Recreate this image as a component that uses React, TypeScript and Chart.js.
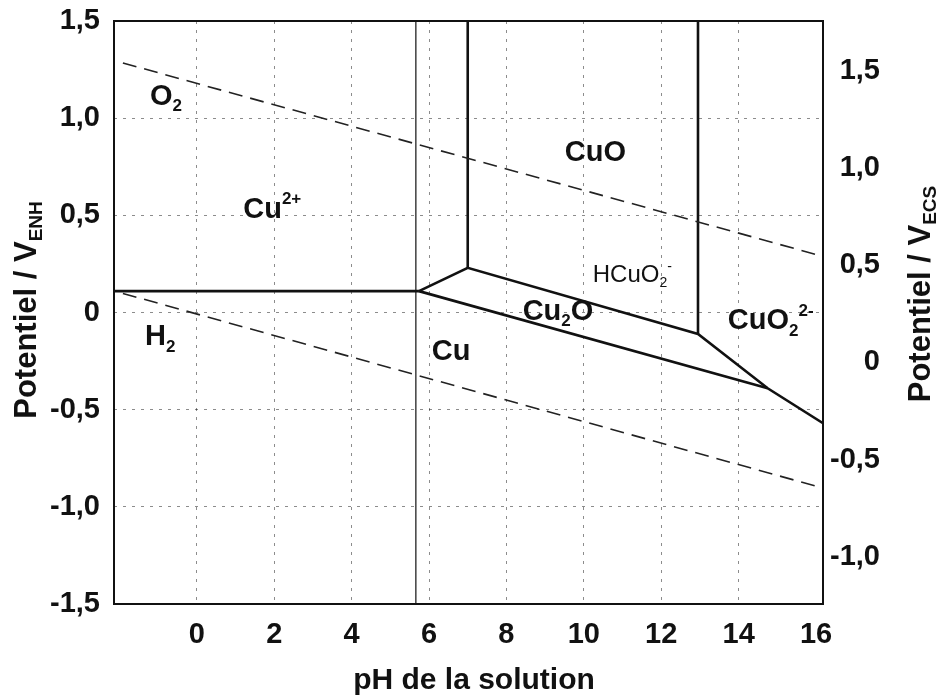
import React, { useEffect, useRef } from "react";
import { Chart, registerables } from "chart.js";

Chart.register(...registerables);

// ---- axes ----
const PH_MIN = -2.14;
const PH_MAX = 16.18;
const PH_TICKS = [0, 2, 4, 6, 8, 10, 12, 14, 16];
const ENH_MIN = -1.5;
const ENH_MAX = 1.5;
const ENH_TICKS = [-1.5, -1.0, -0.5, 0, 0.5, 1.0, 1.5];
const ECS_SHIFT = 0.257; // right-hand scale reading = left reading + shift (as printed)
const ECS_TICKS = [-1.0, -0.5, 0, 0.5, 1.0, 1.5];

// ---- water stability lines (dashed) ----
const o2PH = [-1.91, 16.1];
const o2E = [1.284, 0.293];
const h2PH = [-1.91, 16.1];
const h2E = [0.098, -0.899];

// ---- copper boundaries (solid) ----
const cu2CuPH = [-2.14, 5.74];
const cu2CuE = [0.11, 0.11];
const thinVertPH = [5.66, 5.66];
const thinVertE = [1.5, -1.5];
const upperBoundPH = [5.74, 7.0, 12.95, 14.75, 16.18];
const upperBoundE = [0.11, 0.23, -0.11, -0.39, -0.57];
const cuoLeftPH = [7.0, 7.0];
const cuoLeftE = [1.5, 0.23];
const cuoRightPH = [12.95, 12.95];
const cuoRightE = [1.5, -0.11];
const cuCu2oPH = [5.74, 14.75];
const cuCu2oE = [0.11, -0.39];

// ---- region labels: [text, kind] parts, anchor pH (left edge), E (middle) ----
type Part = [string, "n" | "sub" | "sup"];
const labelParts: Part[][] = [
  [["O", "n"], ["2", "sub"]],
  [["Cu", "n"], ["2+", "sup"]],
  [["CuO", "n"]],
  [["HCuO", "n"], ["2", "sub"], ["-", "sup"]],
  [["Cu", "n"], ["2", "sub"], ["O", "n"]],
  [["CuO", "n"], ["2", "sub"], ["2-", "sup"]],
  [["H", "n"], ["2", "sub"]],
  [["Cu", "n"]],
];
const labelPH = [-1.21, 1.2, 9.51, 10.23, 8.42, 13.72, -1.34, 6.07];
const labelE = [1.11, 0.53, 0.822, 0.19, 0.005, -0.046, -0.128, -0.205];
const labelBold = [true, true, true, false, true, true, true, true];

const FONT = "'Liberation Sans', Arial, Helvetica, sans-serif";

function pts(xs: number[], ys: number[]) {
  return xs.map((x, i) => ({ x, y: ys[i] }));
}

function fmt(v: number) {
  if (Math.abs(v) < 1e-9) return "0";
  return v.toFixed(1).replace(".", ",");
}

function drawRich(
  ctx: CanvasRenderingContext2D,
  parts: Part[],
  x: number,
  y: number,
  size: number,
  weight: string,
  align: "left" | "center"
) {
  const small = Math.round(size * 0.6);
  const fontFor = (k: string) => `${weight} ${k === "n" ? size : small}px ${FONT}`;
  const widths = parts.map(([t, k]) => {
    ctx.font = fontFor(k);
    return ctx.measureText(t).width;
  });
  const total = widths.reduce((a, b) => a + b, 0);
  let cx = align === "center" ? x - total / 2 : x;
  ctx.textAlign = "left";
  ctx.textBaseline = "middle";
  parts.forEach(([t, k], i) => {
    ctx.font = fontFor(k);
    const dy = k === "sub" ? size * 0.33 : k === "sup" ? -size * 0.36 : 0;
    ctx.fillText(t, cx, y + dy);
    cx += widths[i];
  });
}

const annotationsPlugin = {
  id: "pourbaixText",
  afterDatasetsDraw(chart: any) {
    const { ctx, chartArea, scales } = chart;
    ctx.save();
    ctx.fillStyle = "#111";
    labelParts.forEach((parts, i) => {
      const px = scales.x.getPixelForValue(labelPH[i]);
      const py = scales.y.getPixelForValue(labelE[i]);
      const bold = labelBold[i];
      drawRich(ctx, parts, px, py, bold ? 29 : 24, bold ? "bold" : "normal", "left");
    });
    // frame
    ctx.strokeStyle = "#111";
    ctx.lineWidth = 2;
    ctx.strokeRect(chartArea.left, chartArea.top, chartArea.right - chartArea.left, chartArea.bottom - chartArea.top);
    ctx.restore();
  },
  afterDraw(chart: any) {
    const { ctx } = chart;
    ctx.save();
    ctx.fillStyle = "#111";
    drawRich(ctx, [["pH de la solution", "n"]], 474, 681, 30, "bold", "center");
    ctx.save();
    ctx.translate(27, 310);
    ctx.rotate(-Math.PI / 2);
    drawRich(ctx, [["Potentiel / V", "n"], ["ENH", "sub"]], 0, 0, 31, "bold", "center");
    ctx.restore();
    ctx.save();
    ctx.translate(921, 294);
    ctx.rotate(-Math.PI / 2);
    drawRich(ctx, [["Potentiel / V", "n"], ["ECS", "sub"]], 0, 0, 31, "bold", "center");
    ctx.restore();
    ctx.restore();
  },
};

function zeroPad(axis: any) {
  axis.paddingTop = 0;
  axis.paddingBottom = 0;
  axis.paddingLeft = 0;
  axis.paddingRight = 0;
}

export default function App() {
  const ref = useRef<HTMLCanvasElement | null>(null);

  useEffect(() => {
    if (!ref.current) return;
    const solid = (data: any[], w: number) => ({
      data,
      showLine: true,
      borderColor: "#111",
      borderWidth: w,
      pointRadius: 0,
      fill: false,
      tension: 0,
    });
    const dashed = (data: any[]) => ({
      data,
      showLine: true,
      borderColor: "#222",
      borderWidth: 1.6,
      borderDash: [14, 8],
      pointRadius: 0,
      fill: false,
      tension: 0,
    });
    const tickFont = { family: FONT, size: 29, weight: "bold" as const };
    const gridColor = "rgba(0,0,0,0.45)";

    const chart = new Chart(ref.current, {
      type: "scatter",
      data: {
        datasets: [
          dashed(pts(o2PH, o2E)),
          dashed(pts(h2PH, h2E)),
          solid(pts(thinVertPH, thinVertE), 1.2),
          solid(pts(cu2CuPH, cu2CuE), 2.6),
          solid(pts(upperBoundPH, upperBoundE), 2.6),
          solid(pts(cuoLeftPH, cuoLeftE), 2.6),
          solid(pts(cuoRightPH, cuoRightE), 2.6),
          solid(pts(cuCu2oPH, cuCu2oE), 2.6),
        ] as any,
      },
      options: {
        animation: false,
        responsive: false,
        devicePixelRatio: 1,
        layout: { padding: { top: 21, right: 57, left: 0, bottom: 0 } },
        plugins: { legend: { display: false }, tooltip: { enabled: false }, title: { display: false } },
        scales: {
          x: {
            type: "linear",
            position: "bottom",
            min: PH_MIN,
            max: PH_MAX,
            afterBuildTicks: (axis: any) => {
              axis.ticks = PH_TICKS.map((v) => ({ value: v }));
            },
            afterFit: (axis: any) => {
              axis.height = 92;
              zeroPad(axis);
            },
            ticks: {
              font: tickFont,
              color: "#111",
              padding: 14,
              maxRotation: 0,
              autoSkip: false,
              callback: (v: any) => String(v),
            },
            grid: {
              drawTicks: false,
              lineWidth: 1,
              color: (c: any) => (c.tick && c.tick.value === 16 ? "rgba(0,0,0,0)" : gridColor),
            },
            border: { display: false, dash: [3, 6] },
          },
          y: {
            type: "linear",
            position: "left",
            min: ENH_MIN,
            max: ENH_MAX,
            afterBuildTicks: (axis: any) => {
              axis.ticks = ENH_TICKS.map((v) => ({ value: v }));
            },
            afterFit: (axis: any) => {
              axis.width = 114;
              zeroPad(axis);
            },
            ticks: {
              font: tickFont,
              color: "#111",
              padding: 14,
              autoSkip: false,
              callback: (v: any) => fmt(Number(v)),
            },
            grid: {
              drawTicks: false,
              lineWidth: 1,
              color: (c: any) =>
                c.tick && Math.abs(Math.abs(c.tick.value) - 1.5) < 1e-6 ? "rgba(0,0,0,0)" : gridColor,
            },
            border: { display: false, dash: [3, 6] },
          },
          y2: {
            type: "linear",
            position: "right",
            min: ENH_MIN + ECS_SHIFT,
            max: ENH_MAX + ECS_SHIFT,
            afterBuildTicks: (axis: any) => {
              axis.ticks = ECS_TICKS.map((v) => ({ value: v }));
            },
            afterFit: (axis: any) => {
              axis.width = 57;
              zeroPad(axis);
            },
            ticks: {
              font: tickFont,
              color: "#111",
              padding: 10,
              crossAlign: "far",
              autoSkip: false,
              callback: (v: any) => fmt(Number(v)),
            },
            grid: { display: false, drawTicks: false },
            border: { display: false },
          },
        },
      } as any,
      plugins: [annotationsPlugin],
    });
    return () => chart.destroy();
  }, []);

  return (
    <canvas
      ref={ref}
      width={937}
      height={696}
      style={{ position: "absolute", left: 0, top: 0, display: "block", background: "#fff" }}
    />
  );
}
